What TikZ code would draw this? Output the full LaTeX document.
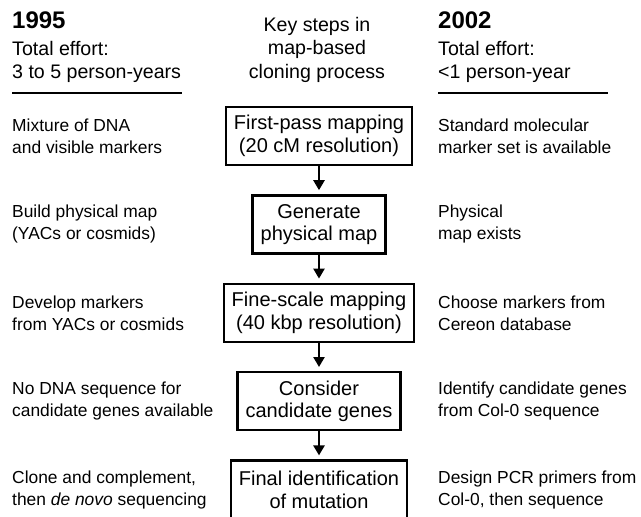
\documentclass[tikz,border=0pt]{standalone}
\usepackage{fontspec}
\setmainfont{Liberation Sans}
\usetikzlibrary{positioning,arrows.meta}
\begin{document}
\begin{tikzpicture}[x=1pt, y=-1pt, node distance=28pt,
    stepbox/.style={draw, line width=2.4pt, inner xsep=8pt, inner ysep=4pt,
      minimum height=58pt, align=center, font=\fontsize{20}{22.5}\selectfont},
    note/.style={anchor=west, align=left, inner sep=0pt, font=\fontsize{17.4}{22}\selectfont},
    head/.style={anchor=base west, inner sep=0pt, font=\fontsize{19.6}{23.5}\selectfont},
    year/.style={anchor=base west, inner sep=0pt, font=\fontsize{24}{24}\selectfont\bfseries},
    rule/.style={line width=1.8pt},
    flow/.style={-{Triangle[length=10pt, width=11pt]}, line width=2.4pt, shorten >=4pt}]
  \clip (0,0) rectangle (641,517);
  \coordinate (lcol) at (12,0);
  \coordinate (rcol) at (438,0);
  % Headers
  \node[year] (y1995) at (12,28) {1995};
  \node[head] (effl) at (12,55) {Total effort:};
  \node[head] (yrsl) at (12,78) {3 to 5 person-years};
  \node[head, anchor=base] (key) at (317,31) {Key steps in};
  \node[head, anchor=base] (based) at (317,54.5) {map-based};
  \node[head, anchor=base] (proc) at (317,78) {cloning process};
  \node[year] (y2002) at (438,28) {2002};
  \node[head] (effr) at (438,55) {Total effort:};
  \node[head] (yrsr) at (438,78) {<1 person-year};
  \draw[rule] (12,93) -- (182,93);
  \draw[rule] (438,93) -- (608,93);
  % Steps
  \node[stepbox] (first) at (319,136) {First-pass mapping\\(20 cM resolution)};
  \node[stepbox, below=of first] (phys) {Generate\\physical map};
  \node[stepbox, below=of phys] (fine) {Fine-scale mapping\\(40 kbp resolution)};
  \node[stepbox, below=of fine] (cand) {Consider\\candidate genes};
  \node[stepbox, below=of cand] (final) {Final identification\\of mutation};
  \draw[flow] (first) -- (phys);
  \draw[flow] (phys) -- (fine);
  \draw[flow] (fine) -- (cand);
  \draw[flow] (cand) -- (final);
  % 1995 column
  \node[note] (old1) at (lcol |- first) {Mixture of DNA\\and visible markers};
  \node[note] (old2) at (lcol |- phys) {Build physical map\\(YACs or cosmids)};
  \node[note] (old3) at (lcol |- fine) {Develop markers\\from YACs or cosmids};
  \node[note] (old4) at (lcol |- cand) {No DNA sequence for\\candidate genes available};
  \node[note] (old5) at (lcol |- final) {Clone and complement,\\then \textit{de novo} sequencing};
  % 2002 column
  \node[note] (new1) at (rcol |- first) {Standard molecular\\marker set is available};
  \node[note] (new2) at (rcol |- phys) {Physical\\map exists};
  \node[note] (new3) at (rcol |- fine) {Choose markers from\\Cereon database};
  \node[note] (new4) at (rcol |- cand) {Identify candidate genes\\from Col-0 sequence};
  \node[note] (new5) at (rcol |- final) {Design PCR primers from\\Col-0, then sequence};
\end{tikzpicture}
\end{document}
